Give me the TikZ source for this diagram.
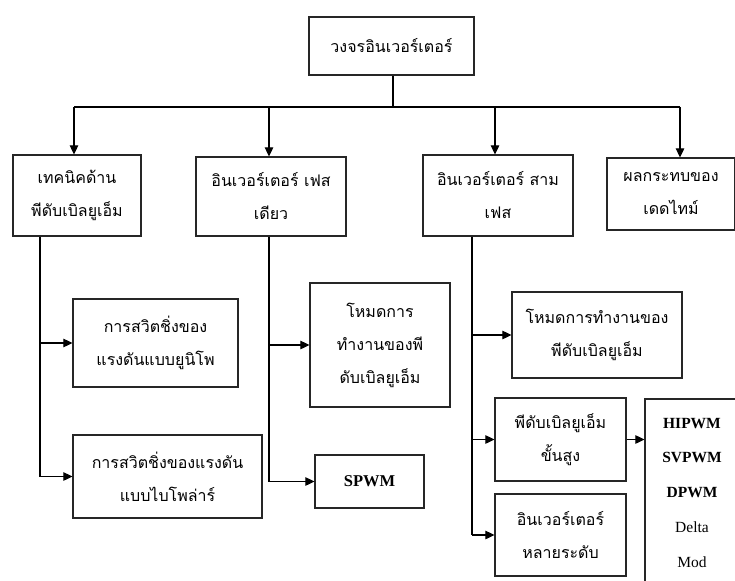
\documentclass[tikz,border=0pt]{standalone}
\usepackage{fontspec}
\setmainfont{Liberation Serif}
\newfontfamily\thaifont[Script=Thai]{Loma}
\usepackage{tikz}
\usetikzlibrary{
    positioning,
    arrows.meta
}
\tikzset{
    % กล่องข้อความ
    box/.style={
        rectangle,
        draw=black!85,
        line width=1.2pt,
        fill=white,
        align=center,
        inner sep=0pt,
        font=\thaifont\fontsize{16}{33}\selectfont
    },
    % เส้นเชื่อม
    link/.style={
        line width=1.1pt,
        color=black
    },
    % ลูกศร
    arrow/.style={
        link,
        -{Triangle[length=9pt, width=8.5pt]}
    }
}
\begin{document}
\begin{tikzpicture}[x=1pt, y=-1pt]

    \clip (0,0) rectangle (735,580);
    \fill[white] (0,0) rectangle (735,580);

    % [0] หัวข้อหลัก
    \node[box, minimum width=165pt, minimum height=58pt] (top) at (391.5,46) {วงจรอินเวอร์เตอร์};

    % [1] แถวที่หนึ่ง
    \node[box, minimum width=128pt, minimum height=81pt] (l1) at (77,195.5) {เทคนิคด้าน\\พีดับเบิลยูเอ็ม};
    \node[box, minimum width=150pt, minimum height=79pt] (l2) at (271,196.5) {อินเวอร์เตอร์ เฟส\\เดียว};
    \node[box, minimum width=150pt, minimum height=81pt] (l3) at (498,195.5) {อินเวอร์เตอร์ สาม\\เฟส};
    \node[box, minimum width=128pt, minimum height=72pt] (l4) at (671,194) {ผลกระทบของ\\เดดไทม์};

    % [2] ใต้เทคนิคด้านพีดับเบิลยูเอ็ม
    \node[box, minimum width=165pt, minimum height=88pt] (b1) at (155.5,343) {การสวิตชิ่งของ\\แรงดันแบบยูนิโพ};
    \node[box, minimum width=189pt, minimum height=83pt] (b2) at (167.5,476.5) {การสวิตชิ่งของแรงดัน\\แบบไบโพล่าร์};

    % [3] ใต้อินเวอร์เตอร์เฟสเดียว
    \node[box, minimum width=140pt, minimum height=124pt] (c1) at (380,345) {โหมดการ\\ทำงานของพี\\ดับเบิลยูเอ็ม};
    \node[box, minimum width=109pt, minimum height=53pt, font=\bfseries\fontsize{16.5}{33}\selectfont] (c2) at (369.5,481.5) {SPWM};

    % [4] ใต้อินเวอร์เตอร์สามเฟส
    \node[box, minimum width=170pt, minimum height=86pt] (d1) at (597,335) {โหมดการทำงานของ\\พีดับเบิลยูเอ็ม};
    \node[box, minimum width=131pt, minimum height=83pt] (d2) at (560.5,439.5) {พีดับเบิลยูเอ็ม\\ขั้นสูง};
    \node[box, minimum width=131pt, minimum height=82pt] (d3) at (560.5,535) {อินเวอร์เตอร์\\หลายระดับ};

    % [5] รายการวิธีขั้นสูง
    \node[box, minimum width=94pt, minimum height=187pt, font=\fontsize{15.5}{34.75}\selectfont] (g) at (692,492.5)
        {\textbf{HIPWM}\\\textbf{SVPWM}\\\textbf{DPWM}\\Delta\\Mod};

    % จุดแยกสาขา
    \coordinate (bar) at (393,107);
    \coordinate (t1) at (74,107);
    \coordinate (t2) at (269,107);
    \coordinate (t3) at (495,107);
    \coordinate (t4) at (680,107);
    \coordinate (s1) at (40,0);
    \coordinate (s2) at (269,0);
    \coordinate (s3) at (472,0);

    % เส้นจากหัวข้อหลัก
    \draw[link] (top.south -| bar) -- (bar);
    \draw[link] (t1) -- (t4);
    \draw[arrow] (t1) -- (t1 |- l1.north);
    \draw[arrow] (t2) -- (t2 |- l2.north);
    \draw[arrow] (t3) -- (t3 |- l3.north);
    \draw[arrow] (t4) -- (t4 |- l4.north);

    % สาขาซ้าย
    \draw[link] (s1 |- l1.south) -- (s1 |- b2.west);
    \draw[arrow] (s1 |- b1.west) -- (b1.west);
    \draw[arrow] (s1 |- b2.west) -- (b2.west);

    % สาขากลาง
    \draw[link] (s2 |- l2.south) -- (s2 |- c2.west);
    \draw[arrow] (s2 |- c1.west) -- (c1.west);
    \draw[arrow] (s2 |- c2.west) -- (c2.west);

    % สาขาขวา
    \draw[link] (s3 |- l3.south) -- (s3 |- d3.west);
    \draw[arrow] (s3 |- d1.west) -- (d1.west);
    \draw[arrow] (s3 |- d2.west) -- (d2.west);
    \draw[arrow] (s3 |- d3.west) -- (d3.west);

    \draw[arrow] (d2.east) -- (d2.east -| g.west);

\end{tikzpicture}
\end{document}
